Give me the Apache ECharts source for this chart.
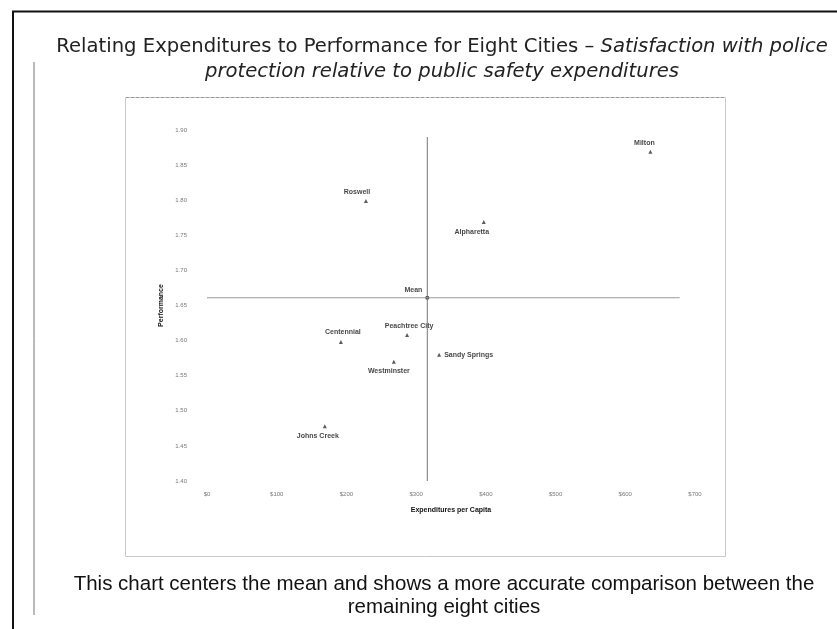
<!DOCTYPE html>
<html><head><meta charset="utf-8">
<script src="https://cdn.jsdelivr.net/npm/echarts@6/dist/echarts.min.js"></script>
<style>html,body{margin:0;padding:0;background:#fff}#c{width:837px;height:629px}</style>
</head><body><div id="c"></div>
<script>
// Data
const cities = ['Milton','Roswell','Alpharetta','Peachtree City','Centennial','Westminster','Sandy Springs','Johns Creek'];
const expenditures = [636, 228, 397, 287, 192, 268, 333, 169];
const performance = [1.869, 1.799, 1.769, 1.608, 1.598, 1.570, 1.580, 1.478];
const meanPoint = [316, 1.661];
const xTicks = [0, 100, 200, 300, 400, 500, 600, 700];
const yTicks = [1.40, 1.45, 1.50, 1.55, 1.60, 1.65, 1.70, 1.75, 1.80, 1.85, 1.90];
const vLineY = [1.40, 1.89];
const hLineX = [0, 678];

const labelPlacement = {
  'Milton': {position:'top', offset:[-6,0]},
  'Roswell': {position:'top', offset:[-9,0]},
  'Alpharetta': {position:'bottom', offset:[-12,2]},
  'Peachtree City': {position:'top', offset:[2,0]},
  'Centennial': {position:'top', offset:[2,-1]},
  'Westminster': {position:'bottom', offset:[-5,1]},
  'Sandy Springs': {position:'right', offset:[0,0]},
  'Johns Creek': {position:'bottom', offset:[-7,1]}
};

const chart = echarts.init(document.getElementById('c'), null, {renderer:'canvas'});
const lblStyle = {color:'#111', fontSize:7, fontWeight:'bold', fontFamily:'Liberation Sans'};
const titleFont = 'DejaVu Sans';
const tSize = 19.6;
const fSize = 20.5;

chart.setOption({
  animation:false,
  backgroundColor:'#fff',
  title:[
    {text:'Relating Expenditures to Performance for Eight Cities – {i|Satisfaction with police}',
     left:437, top:32, textAlign:'center',
     textStyle:{fontFamily:titleFont, fontSize:tSize, fontWeight:'normal', color:'#222',
       rich:{i:{fontFamily:titleFont, fontSize:tSize, fontStyle:'italic', color:'#222'}}}},
    {text:'protection relative to public safety expenditures',
     left:437, top:57, textAlign:'center',
     textStyle:{fontFamily:titleFont, fontSize:tSize, fontStyle:'italic', fontWeight:'normal', color:'#222'}},
    {text:'This chart centers the mean and shows a more accurate comparison between the',
     left:439, top:569, textAlign:'center',
     textStyle:{fontFamily:'Liberation Sans', fontSize:fSize, fontWeight:'normal', color:'#111'}},
    {text:'remaining eight cities',
     left:439, top:592, textAlign:'center',
     textStyle:{fontFamily:'Liberation Sans', fontSize:fSize, fontWeight:'normal', color:'#111'}}
  ],
  graphic:[
    {type:'line', shape:{x1:12,y1:11.5,x2:837,y2:11.5}, style:{stroke:'#111', lineWidth:2}},
    {type:'line', shape:{x1:13,y1:11,x2:13,y2:629}, style:{stroke:'#111', lineWidth:2}},
    {type:'line', shape:{x1:34,y1:62,x2:34,y2:615}, style:{stroke:'#777', lineWidth:1}},
    {type:'rect', shape:{x:125.5,y:97.5,width:600,height:459}, style:{fill:'none', stroke:'#c8c8c8', lineWidth:1}},
    {type:'line', shape:{x1:126,y1:97.5,x2:725,y2:97.5}, style:{stroke:'#999', lineWidth:1, lineDash:[3,2]}}
  ],
  grid:{left:207, right:142, top:130, bottom:148},
  xAxis:{type:'value', min:0, max:700, interval:100,
    name:'Expenditures per Capita', nameLocation:'middle', nameGap:26,
    nameTextStyle:{fontSize:7, fontWeight:'bold', color:'#111', fontFamily:'Liberation Sans'},
    axisLine:{show:false}, axisTick:{show:false}, splitLine:{show:false},
    axisLabel:{fontSize:6, color:'#777', margin:10, formatter:v=>'$'+v}},
  yAxis:{type:'value', min:1.40, max:1.90, interval:0.05,
    name:'Performance', nameLocation:'middle', nameGap:32, nameRotate:90,
    nameTextStyle:{fontSize:7, fontWeight:'bold', color:'#111', fontFamily:'Liberation Sans'},
    axisLine:{show:false}, axisTick:{show:false}, splitLine:{show:false},
    axisLabel:{fontSize:6, color:'#777', margin:20, formatter:v=>v.toFixed(2)}},
  series:[
    {type:'line', data:[[meanPoint[0],vLineY[0]],[meanPoint[0],vLineY[1]]], symbol:'none',
     lineStyle:{color:'#777', width:1}, silent:true},
    {type:'line', data:[[hLineX[0],meanPoint[1]],[hLineX[1],meanPoint[1]]], symbol:'none',
     lineStyle:{color:'#999', width:1}, silent:true},
    {type:'scatter', symbol:'triangle', symbolSize:4, itemStyle:{color:'#333'},
     data:cities.map((c,i)=>({name:c, value:[expenditures[i], performance[i]],
       label:Object.assign({show:true, formatter:'{b}', distance:3}, lblStyle, labelPlacement[c])}))},
    {type:'scatter', symbol:'circle', symbolSize:4, itemStyle:{color:'#111'},
     data:[{name:'Mean', value:meanPoint,
       label:Object.assign({show:true, formatter:'{b}', position:'left', offset:[0,-8], distance:3}, lblStyle)}]}
  ]
});
</script></body></html>
